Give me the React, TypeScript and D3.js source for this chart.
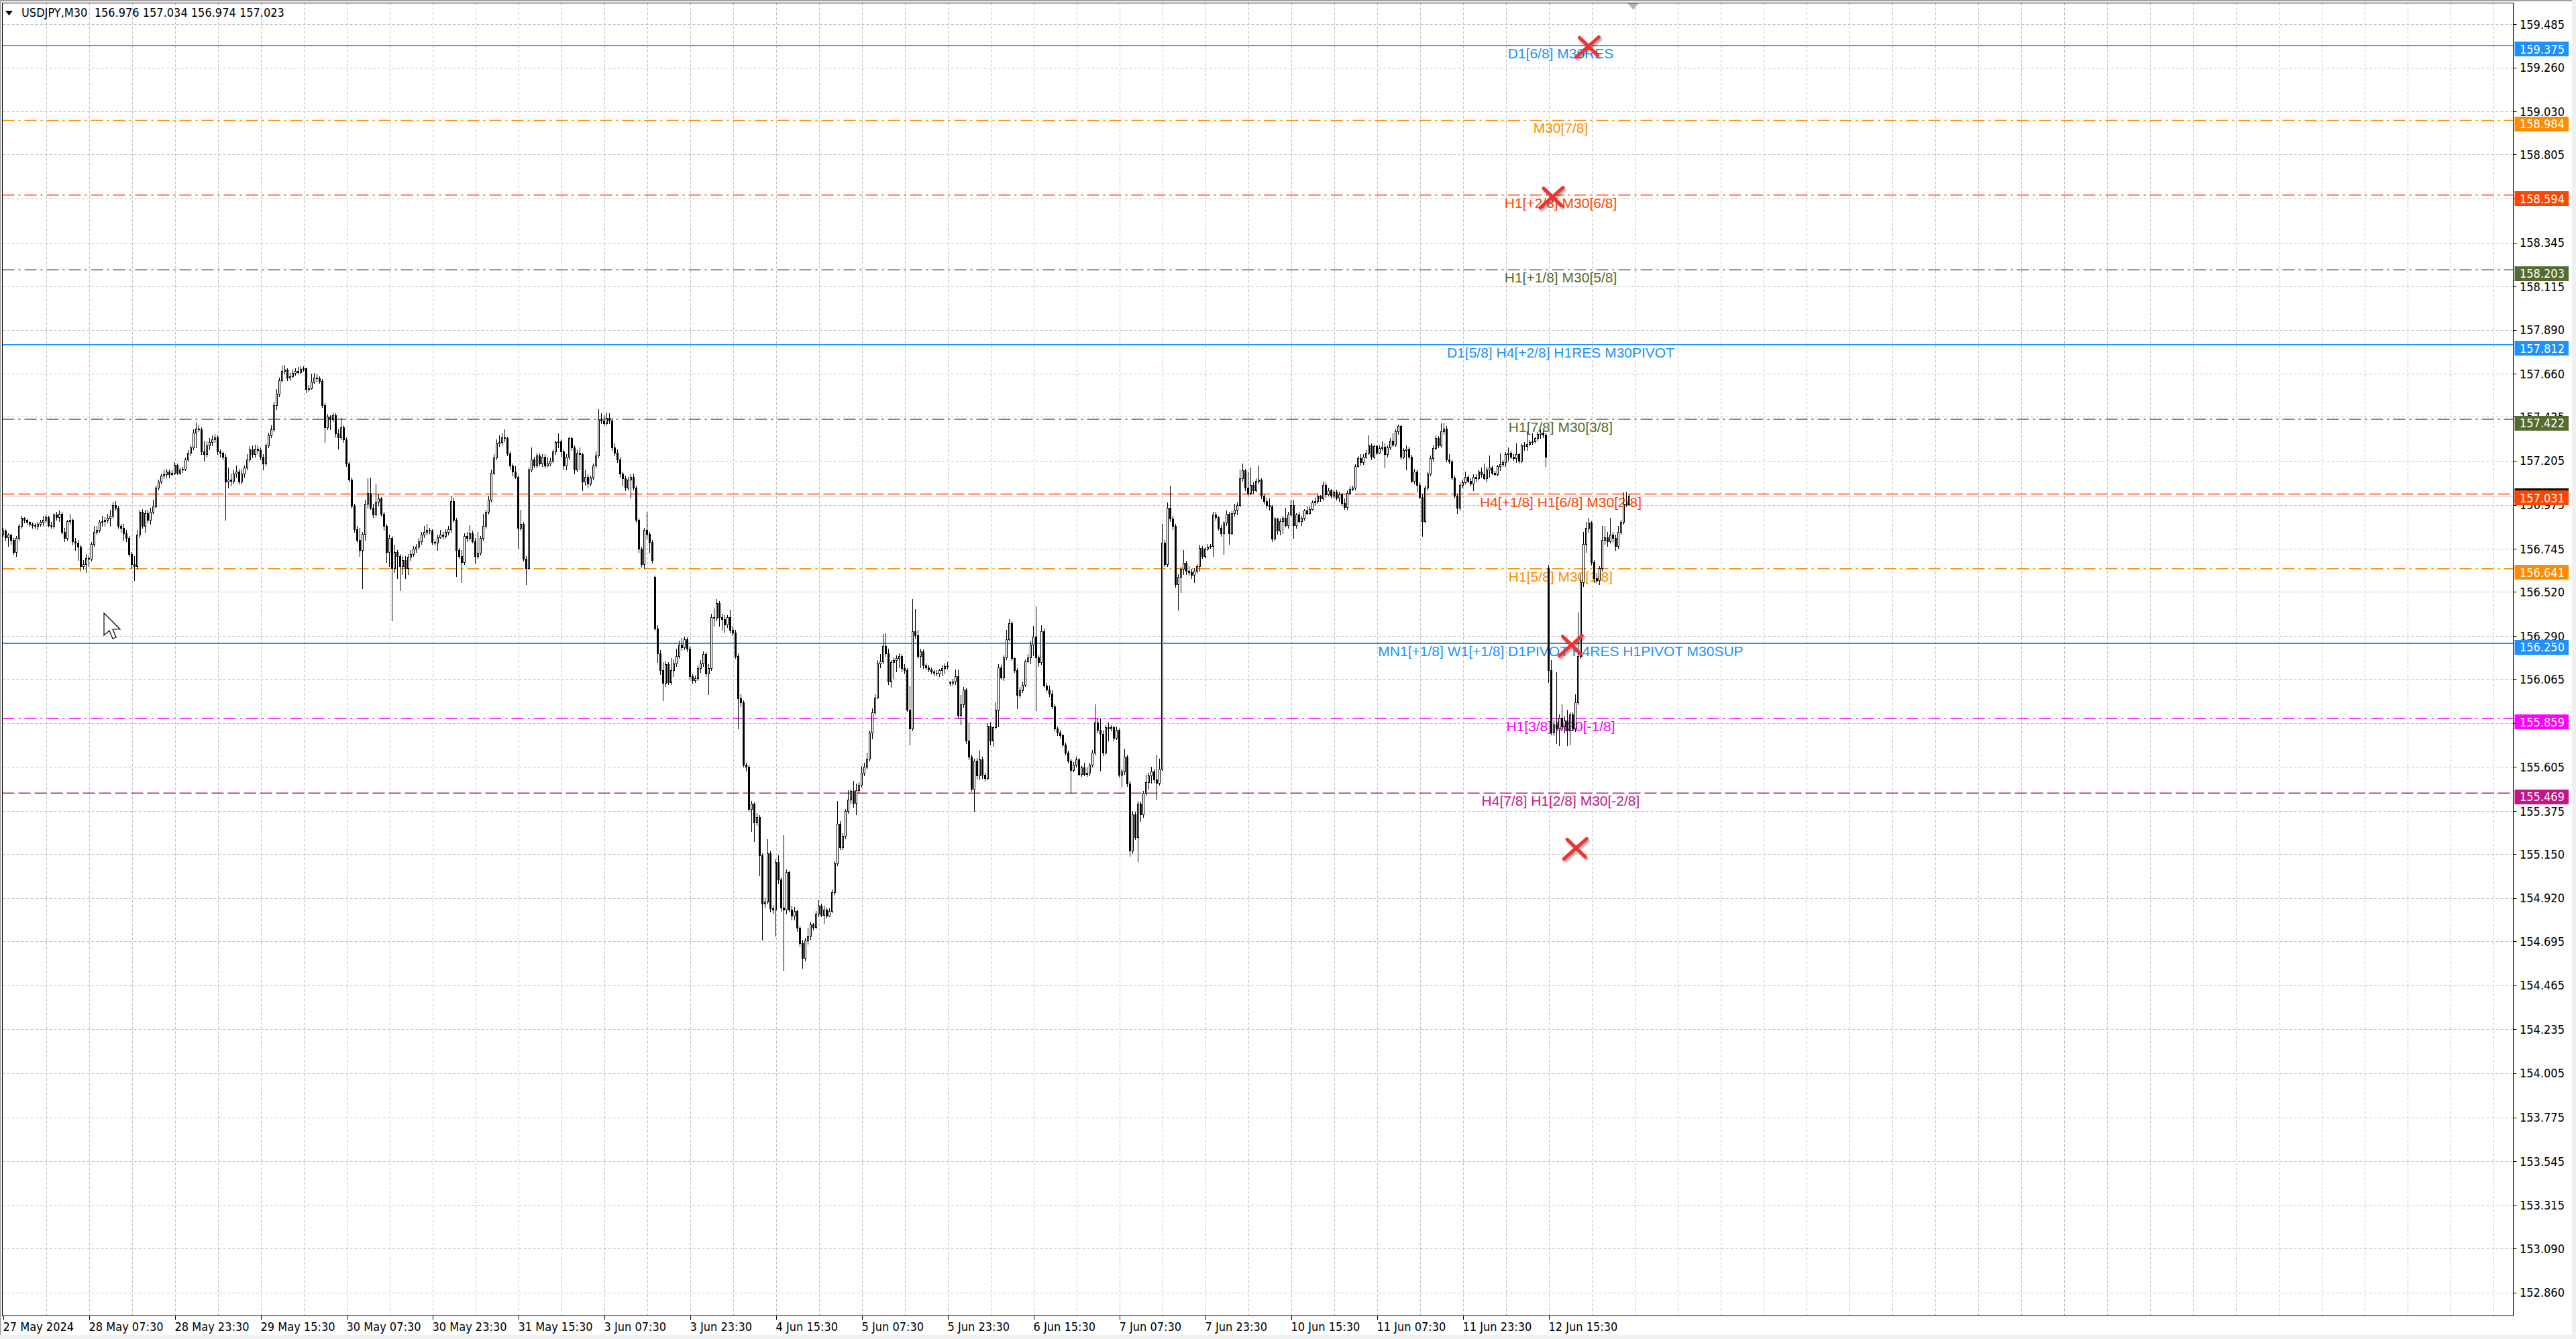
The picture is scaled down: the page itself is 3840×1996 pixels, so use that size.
import React from "react";
import * as d3 from "d3";

type Candle = [number, number, number, number]; // open, high, low, close

// ---- M30 candles, one array per trading session ----
const may27: Candle[] = [
  [156.824,156.855,156.813,156.841],[156.841,156.849,156.792,156.807],[156.807,156.828,156.761,156.820],[156.820,156.824,156.771,156.792],
  [156.792,156.803,156.719,156.729],[156.729,156.813,156.708,156.803],[156.803,156.876,156.792,156.866],[156.866,156.918,156.855,156.908],
  [156.908,156.912,156.883,156.897],[156.897,156.904,156.876,156.887],[156.887,156.891,156.866,156.874],[156.874,156.883,156.855,156.870],
  [156.870,156.879,156.853,156.866],[156.866,156.887,156.849,156.874],[156.874,156.897,156.866,156.887],[156.887,156.918,156.870,156.897],
  [156.897,156.925,156.883,156.912],
];
const may28: Candle[] = [
  [156.912,156.916,156.862,156.870],[156.870,156.887,156.853,156.866],[156.866,156.933,156.855,156.925],[156.925,156.939,156.897,156.912],
  [156.912,156.946,156.891,156.929],[156.929,156.939,156.824,156.834],[156.834,156.855,156.786,156.803],[156.803,156.897,156.792,156.891],
  [156.891,156.929,156.876,156.897],[156.897,156.904,156.771,156.786],[156.786,156.803,156.740,156.778],[156.778,156.792,156.687,156.757],
  [156.757,156.765,156.629,156.656],[156.656,156.687,156.639,156.666],[156.666,156.719,156.624,156.698],[156.698,156.708,156.656,156.694],
  [156.694,156.782,156.681,156.771],[156.771,156.866,156.761,156.834],[156.834,156.866,156.824,156.845],[156.845,156.897,156.834,156.887],
  [156.887,156.918,156.866,156.891],[156.891,156.912,156.866,156.897],[156.897,156.929,156.883,156.908],[156.908,156.950,156.866,156.918],
  [156.918,156.992,156.908,156.975],[156.975,156.996,156.950,156.960],[156.960,156.971,156.855,156.866],[156.866,156.876,156.834,156.855],
  [156.855,156.876,156.792,156.828],[156.828,156.845,156.786,156.803],[156.803,156.813,156.708,156.719],[156.719,156.729,156.645,156.666],
  [156.666,156.708,156.582,156.656],[156.656,156.845,156.639,156.820],[156.820,156.950,156.807,156.939],[156.939,156.954,156.855,156.866],
  [156.866,156.950,156.834,156.933],[156.933,156.950,156.883,156.897],[156.897,156.960,156.876,156.939],[156.939,157.003,156.929,156.967],
  [156.967,157.076,156.960,157.065],[157.065,157.107,157.055,157.097],[157.097,157.139,157.086,157.128],[157.128,157.160,157.114,157.135],
  [157.135,157.164,157.122,157.149],[157.149,157.160,157.118,157.135],[157.135,157.156,157.128,157.143],[157.143,157.198,157.135,157.185],
];
const may29: Candle[] = [
  [157.185,157.191,157.135,157.143],[157.143,157.168,157.135,157.160],[157.160,157.173,157.147,157.164],[157.164,157.223,157.156,157.212],
  [157.212,157.261,157.202,157.248],[157.248,157.286,157.233,157.275],[157.275,157.370,157.265,157.353],[157.353,157.406,157.275,157.374],
  [157.374,157.391,157.359,157.370],[157.370,157.380,157.240,157.254],[157.254,157.307,157.206,157.240],[157.240,157.307,157.227,157.286],
  [157.286,157.324,157.265,157.303],[157.303,157.338,157.286,157.317],[157.317,157.345,157.303,157.328],[157.328,157.338,157.240,157.254],
  [157.254,157.265,157.227,157.248],[157.248,157.254,157.212,157.227],[157.227,157.240,156.897,157.097],[157.097,157.170,157.065,157.107],
  [157.107,157.139,157.076,157.101],[157.101,157.160,157.086,157.139],[157.139,157.181,157.122,157.149],[157.149,157.164,157.086,157.097],
  [157.097,157.160,157.086,157.139],[157.139,157.181,157.122,157.170],[157.170,157.240,157.160,157.212],[157.212,157.282,157.202,157.265],
  [157.265,157.286,157.223,157.240],[157.240,157.290,157.227,157.269],[157.269,157.286,157.244,157.261],[157.261,157.275,157.212,157.227],
  [157.227,157.240,157.160,157.191],[157.191,157.296,157.181,157.286],[157.286,157.353,157.275,157.338],[157.338,157.391,157.328,157.370],
  [157.370,157.513,157.359,157.496],[157.496,157.580,157.475,157.555],[157.555,157.639,157.542,157.626],[157.626,157.702,157.618,157.674],
  [157.674,157.706,157.660,157.681],[157.681,157.689,157.626,157.639],[157.639,157.664,157.626,157.647],[157.647,157.681,157.639,157.664],
  [157.664,157.689,157.654,157.674],[157.674,157.695,157.660,157.668],[157.668,157.698,157.664,157.685],[157.685,157.698,157.674,157.689],
];
const may30: Candle[] = [
  [157.689,157.693,157.563,157.580],[157.580,157.601,157.569,157.584],[157.584,157.660,157.580,157.618],[157.618,157.664,157.612,157.639],
  [157.639,157.660,157.618,157.635],[157.635,157.647,157.612,157.622],[157.622,157.632,157.486,157.496],[157.496,157.507,157.303,157.380],
  [157.380,157.450,157.370,157.437],[157.437,157.443,157.370,157.422],[157.422,157.458,157.412,157.443],[157.443,157.454,157.332,157.349],
  [157.349,157.370,157.269,157.328],[157.328,157.429,157.317,157.380],[157.380,157.391,157.303,157.317],[157.317,157.328,157.177,157.191],
  [157.191,157.202,157.097,157.107],[157.107,157.118,156.960,156.971],[156.971,156.982,156.834,156.849],[156.849,156.866,156.782,156.792],
  [156.792,156.855,156.708,156.740],[156.740,156.834,156.540,156.824],[156.824,157.003,156.792,156.982],[156.982,157.114,156.960,157.038],
  [157.038,157.118,156.954,156.960],[156.960,156.982,156.912,156.925],[156.925,157.086,156.918,156.992],[156.992,157.030,156.971,157.009],
  [157.009,157.017,156.918,156.929],[156.929,156.939,156.845,156.866],[156.866,156.876,156.677,156.729],[156.729,156.820,156.656,156.803],
  [156.803,156.813,156.372,156.645],[156.645,156.765,156.624,156.729],[156.729,156.740,156.593,156.708],[156.708,156.719,156.530,156.656],
  [156.656,156.708,156.614,156.687],[156.687,156.708,156.593,156.645],[156.645,156.719,156.614,156.702],[156.702,156.740,156.687,156.719],
  [156.719,156.761,156.708,156.744],[156.744,156.771,156.729,156.757],[156.757,156.803,156.744,156.786],[156.786,156.834,156.771,156.820],
  [156.820,156.866,156.807,156.834],[156.834,156.876,156.820,156.845],[156.845,156.855,156.828,156.841],[156.841,156.849,156.771,156.782],
];
const may31: Candle[] = [
  [156.782,156.790,156.765,156.778],[156.778,156.820,156.740,156.807],[156.807,156.845,156.803,156.820],[156.820,156.834,156.799,156.813],
  [156.813,156.849,156.803,156.834],[156.834,156.866,156.820,156.849],[156.849,157.024,156.834,156.996],[156.996,157.013,156.887,156.897],
  [156.897,156.908,156.603,156.740],[156.740,156.750,156.698,156.708],[156.708,156.740,156.572,156.677],[156.677,156.828,156.666,156.813],
  [156.813,156.834,156.786,156.803],[156.803,156.870,156.792,156.828],[156.828,156.841,156.778,156.786],[156.786,156.803,156.673,156.708],
  [156.708,156.834,156.698,156.723],[156.723,156.813,156.715,156.803],[156.803,156.929,156.792,156.866],[156.866,156.950,156.855,156.939],
  [156.939,157.024,156.929,157.003],[157.003,157.160,156.992,157.143],[157.143,157.240,157.135,157.223],[157.223,157.317,157.212,157.296],
  [157.296,157.338,157.282,157.303],[157.303,157.349,157.290,157.328],[157.328,157.370,157.307,157.324],[157.324,157.332,157.233,157.244],
  [157.244,157.254,157.164,157.181],[157.181,157.191,157.128,157.149],[157.149,157.177,157.114,157.122],[157.122,157.128,156.750,156.855],
  [156.855,156.950,156.845,156.876],[156.876,156.887,156.681,156.694],[156.694,156.708,156.561,156.645],[156.645,157.170,156.639,157.160],
  [157.160,157.275,157.149,157.212],[157.212,157.227,157.170,157.181],[157.181,157.248,157.170,157.233],[157.233,157.244,157.181,157.191],
  [157.191,157.240,157.177,157.227],[157.227,157.240,157.170,157.181],[157.181,157.223,157.177,157.191],[157.191,157.219,157.181,157.206],
  [157.206,157.265,157.198,157.254],[157.254,157.311,157.240,157.303],[157.303,157.349,157.275,157.307],[157.307,157.317,157.227,157.254],
];
const jun03: Candle[] = [
  [157.254,157.265,157.164,157.181],[157.181,157.240,157.160,157.227],[157.227,157.332,157.212,157.324],[157.324,157.332,157.261,157.275],
  [157.275,157.286,157.139,157.160],[157.160,157.261,157.149,157.248],[157.248,157.275,157.160,157.240],[157.240,157.248,157.051,157.097],
  [157.097,157.160,157.080,157.122],[157.122,157.135,157.065,157.086],[157.086,157.128,157.076,157.118],[157.118,157.191,157.107,157.181],
  [157.181,157.254,157.170,157.233],[157.233,157.475,157.223,157.422],[157.422,157.454,157.401,157.416],[157.416,157.443,157.391,157.401],
  [157.401,157.458,157.395,157.429],[157.429,157.454,157.401,157.416],[157.416,157.429,157.261,157.275],[157.275,157.296,157.233,157.248],
  [157.248,157.265,157.198,157.212],[157.212,157.223,157.122,157.139],[157.139,157.149,157.076,157.114],[157.114,157.126,157.051,157.065],
  [157.065,157.122,157.055,157.107],[157.107,157.135,157.013,157.122],[157.122,157.139,157.055,157.065],[157.065,157.076,156.887,156.897],
  [156.897,156.908,156.729,156.744],[156.744,156.757,156.652,156.666],[156.666,156.855,156.645,156.845],[156.845,156.939,156.803,156.824],
  [156.824,156.834,156.729,156.782],[156.782,156.792,156.673,156.687],[156.600,156.605,156.320,156.330],[156.330,156.345,156.152,156.198],
  [156.198,156.215,156.089,156.110],[156.110,156.152,155.952,156.043],[156.043,156.156,156.026,156.142],[156.142,156.152,156.037,156.047],
  [156.047,156.173,156.037,156.110],[156.110,156.169,156.078,156.148],[156.148,156.225,156.131,156.184],[156.184,156.267,156.173,156.246],
  [156.246,156.278,156.215,156.232],[156.232,156.288,156.219,156.274],[156.274,156.282,156.211,156.225],[156.225,156.236,156.064,156.078],
];
const jun04: Candle[] = [
  [156.078,156.089,156.043,156.058],[156.058,156.085,156.047,156.068],[156.068,156.135,156.058,156.121],[156.121,156.163,156.100,156.148],
  [156.148,156.211,156.131,156.194],[156.194,156.205,156.078,156.093],[156.093,156.142,155.984,156.121],[156.121,156.404,156.110,156.387],
  [156.387,156.435,156.341,156.383],[156.383,156.484,156.372,156.463],[156.463,156.471,156.341,156.387],[156.387,156.404,156.320,156.379],
  [156.379,156.400,156.309,156.351],[156.351,156.400,156.337,156.387],[156.387,156.425,156.309,156.320],[156.320,156.341,156.295,156.309],
  [156.309,156.320,156.173,156.184],[156.184,156.198,155.805,155.963],[155.963,155.984,155.921,155.942],[155.942,155.952,155.606,155.616],
  [155.616,155.627,155.585,155.606],[155.606,155.616,155.375,155.385],[155.385,155.428,155.270,155.413],[155.413,155.421,155.217,155.316],
  [155.316,155.364,155.301,155.343],[155.343,155.354,155.039,155.144],[155.144,155.154,154.703,154.892],[154.892,154.924,154.871,154.903],
  [154.903,155.228,154.892,155.154],[155.154,155.165,154.850,154.867],[154.867,154.882,154.840,154.861],[154.861,155.123,154.724,155.109],
  [155.109,155.144,154.997,155.018],[155.018,155.029,154.854,154.871],[154.871,155.249,154.545,154.861],[154.861,155.070,154.840,155.056],
  [155.056,155.064,154.850,154.861],[154.861,154.882,154.808,154.829],[154.829,154.875,154.808,154.854],[154.854,154.861,154.749,154.766],
  [154.766,154.776,154.671,154.686],[154.686,154.703,154.556,154.608],[154.608,154.714,154.594,154.699],[154.699,154.766,154.682,154.724],
  [154.724,154.797,154.707,154.783],[154.783,154.791,154.755,154.770],[154.770,154.854,154.762,154.840],[154.840,154.909,154.825,154.882],
];
const jun05: Candle[] = [
  [154.882,154.892,154.825,154.833],[154.833,154.882,154.791,154.861],[154.861,154.871,154.818,154.829],[154.829,154.867,154.825,154.854],
  [154.854,154.965,154.846,154.951],[154.951,155.113,154.938,155.102],[155.102,155.428,155.092,155.308],[155.308,155.322,155.175,155.186],
  [155.186,155.259,155.175,155.245],[155.245,155.385,155.232,155.375],[155.375,155.484,155.364,155.434],[155.434,155.490,155.413,155.480],
  [155.480,155.532,155.396,155.417],[155.417,155.518,155.358,155.484],[155.484,155.526,155.469,155.511],[155.511,155.610,155.501,155.574],
  [155.574,155.627,155.560,155.606],[155.606,155.679,155.595,155.648],[155.648,155.795,155.637,155.784],[155.784,155.910,155.753,155.889],
  [155.889,155.984,155.879,155.967],[155.967,156.163,155.963,156.148],[156.148,156.194,156.127,156.156],[156.156,156.299,156.148,156.236],
  [156.236,156.303,156.184,156.198],[156.198,156.225,156.037,156.051],[156.051,156.163,156.022,156.152],[156.152,156.177,156.064,156.163],
  [156.163,156.190,156.106,156.173],[156.173,156.198,156.127,156.184],[156.184,156.194,156.106,156.121],[156.121,156.142,156.093,156.110],
  [156.110,156.121,155.896,155.904],[155.904,156.026,155.721,155.805],[155.805,156.484,155.795,156.316],[156.316,156.429,156.278,156.295],
  [156.295,156.320,156.173,156.184],[156.184,156.225,156.127,156.211],[156.211,156.219,156.121,156.135],[156.135,156.148,156.114,156.127],
  [156.127,156.139,156.106,156.114],[156.114,156.127,156.093,156.104],[156.104,156.114,156.085,156.097],[156.097,156.110,156.085,156.093],
  [156.093,156.118,156.078,156.110],[156.110,156.135,156.085,156.121],[156.121,156.148,156.093,156.131],[156.131,156.152,156.118,156.135],
];
const jun06: Candle[] = [
  [156.047,156.055,156.030,156.043],[156.043,156.064,156.034,156.051],[156.051,156.114,156.037,156.078],[156.078,156.114,155.862,155.875],
  [155.875,155.980,155.826,155.931],[155.931,156.022,155.917,156.009],[156.009,156.016,155.728,155.742],[155.742,155.837,155.644,155.658],
  [155.658,155.669,155.480,155.490],[155.490,155.648,155.375,155.637],[155.637,155.652,155.543,155.560],[155.560,155.690,155.539,155.644],
  [155.644,155.658,155.547,155.564],[155.564,155.574,155.532,155.547],[155.547,155.833,155.539,155.820],[155.820,155.837,155.721,155.742],
  [155.742,155.820,155.715,155.812],[155.812,155.942,155.805,155.904],[155.904,156.142,155.816,156.127],[156.127,156.139,156.064,156.072],
  [156.072,156.190,156.058,156.177],[156.177,156.320,156.169,156.274],[156.274,156.379,156.267,156.358],[156.358,156.366,156.163,156.173],
  [156.173,156.177,156.100,156.110],[156.110,156.121,155.910,155.980],[155.980,156.022,155.967,156.005],[156.005,156.051,155.995,156.034],
  [156.034,156.169,156.026,156.156],[156.156,156.194,156.152,156.177],[156.177,156.261,156.148,156.246],[156.246,156.341,156.190,156.288],
  [156.288,156.446,155.900,156.177],[156.177,156.190,156.131,156.152],[156.152,156.345,156.142,156.316],[156.316,156.330,156.022,156.030],
  [156.030,156.043,156.001,156.009],[156.009,156.030,155.973,155.988],[155.988,156.005,155.910,155.921],[155.921,155.931,155.795,155.805],
  [155.805,155.816,155.770,155.784],[155.784,155.799,155.757,155.770],[155.770,155.778,155.711,155.721],[155.721,155.732,155.669,155.679],
  [155.679,155.690,155.627,155.637],[155.637,155.648,155.469,155.589],[155.589,155.631,155.581,155.616],[155.616,155.658,155.606,155.644],
];
const jun07: Candle[] = [
  [155.644,155.652,155.560,155.568],[155.568,155.614,155.556,155.602],[155.602,155.627,155.560,155.568],[155.568,155.602,155.556,155.574],
  [155.574,155.627,155.560,155.616],[155.616,155.694,155.606,155.679],[155.679,155.931,155.669,155.837],[155.837,155.854,155.784,155.799],
  [155.799,155.858,155.585,155.778],[155.778,155.795,155.665,155.679],[155.679,155.824,155.673,155.812],[155.812,155.837,155.742,155.805],
  [155.805,155.824,155.795,155.812],[155.812,155.820,155.742,155.757],[155.757,155.816,155.749,155.799],[155.799,155.805,155.553,155.564],
  [155.564,155.595,155.501,155.581],[155.581,155.700,155.568,155.658],[155.658,155.669,155.505,155.518],[155.518,155.532,155.140,155.169],
  [155.169,155.375,155.154,155.358],[155.358,155.371,155.228,155.238],[155.238,155.428,155.113,155.413],[155.413,155.425,155.322,155.358],
  [155.358,155.480,155.343,155.469],[155.469,155.564,155.459,155.526],[155.526,155.574,155.490,155.560],[155.560,155.606,155.522,155.581],
  [155.581,155.595,155.526,155.539],[155.539,155.669,155.434,155.522],[155.522,155.648,155.511,155.595],[155.595,156.876,155.589,156.778],
  [156.778,156.792,156.656,156.666],[156.666,156.988,156.656,156.960],[156.960,157.076,156.891,156.904],[156.904,156.918,156.849,156.866],
  [156.866,156.876,156.547,156.561],[156.561,156.614,156.425,156.597],[156.597,156.652,156.519,156.639],[156.639,156.740,156.614,156.673],
  [156.673,156.681,156.614,156.631],[156.631,156.656,156.610,156.624],[156.624,156.639,156.593,156.610],[156.610,156.645,156.572,156.631],
  [156.631,156.666,156.618,156.656],[156.656,156.765,156.631,156.750],[156.750,156.761,156.698,156.708],[156.708,156.757,156.700,156.744],
];
const jun10: Candle[] = [
  [156.744,156.771,156.740,156.757],[156.757,156.769,156.748,156.761],[156.761,156.939,156.708,156.925],[156.925,156.939,156.897,156.912],
  [156.912,156.918,156.845,156.855],[156.855,156.870,156.813,156.828],[156.828,156.891,156.719,156.883],[156.883,156.946,156.870,156.929],
  [156.929,156.939,156.771,156.828],[156.828,156.946,156.820,156.933],[156.933,156.982,156.918,156.950],[156.950,156.988,156.925,156.975],
  [156.975,157.160,156.967,157.114],[157.114,157.191,157.101,157.156],[157.156,157.164,157.051,157.065],[157.065,157.149,157.024,157.038],
  [157.038,157.170,157.030,157.080],[157.080,157.093,157.038,157.051],[157.051,157.114,157.042,157.101],[157.101,157.181,157.089,157.105],
  [157.105,157.114,157.009,157.024],[157.024,157.034,156.982,156.996],[156.996,157.013,156.960,156.975],[156.975,157.009,156.950,156.967],
  [156.967,156.975,156.786,156.799],[156.799,156.912,156.792,156.904],[156.904,156.908,156.824,156.841],[156.841,156.904,156.820,156.891],
  [156.891,156.918,156.828,156.908],[156.908,156.960,156.862,156.870],[156.870,156.939,156.855,156.925],[156.925,157.003,156.918,156.975],
  [156.975,157.003,156.803,156.870],[156.870,156.933,156.855,156.925],[156.925,156.939,156.883,156.891],[156.891,156.918,156.870,156.908],
  [156.908,156.954,156.897,156.946],[156.946,156.967,156.925,156.933],[156.933,156.967,156.929,156.954],[156.954,156.999,156.950,156.988],
  [156.988,157.013,156.975,156.996],[156.996,157.034,156.984,157.021],[157.021,157.026,156.996,157.009],[157.009,157.097,157.003,157.080],
  [157.080,157.093,157.017,157.030],[157.030,157.065,157.021,157.051],[157.051,157.059,157.013,157.021],[157.021,157.055,157.013,157.042],
];
const jun11: Candle[] = [
  [157.042,157.055,157.003,157.013],[157.013,157.042,156.996,157.030],[157.030,157.038,156.975,156.984],[156.984,157.009,156.954,156.963],
  [156.963,157.051,156.954,157.038],[157.038,157.072,157.030,157.059],[157.059,157.076,157.051,157.063],[157.063,157.189,157.055,157.177],
  [157.177,157.231,157.173,157.219],[157.219,157.240,157.185,157.198],[157.198,157.240,157.189,157.227],[157.227,157.261,157.219,157.248],
  [157.248,157.338,157.240,157.286],[157.286,157.296,157.212,157.227],[157.227,157.290,157.219,157.282],[157.282,157.290,157.240,157.248],
  [157.248,157.286,157.244,157.273],[157.273,157.307,157.261,157.278],[157.278,157.296,157.170,157.240],[157.240,157.286,157.227,157.275],
  [157.275,157.324,157.265,157.311],[157.311,157.349,157.282,157.290],[157.290,157.370,157.282,157.359],[157.359,157.395,157.345,157.387],
  [157.387,157.395,157.212,157.227],[157.227,157.273,157.219,157.261],[157.261,157.286,157.160,157.269],[157.269,157.278,157.215,157.227],
  [157.227,157.236,157.093,157.101],[157.101,157.164,157.086,157.149],[157.149,157.160,157.045,157.080],[157.080,157.093,157.009,157.017],
  [157.017,157.030,156.813,156.891],[156.891,157.076,156.883,157.065],[157.065,157.149,157.055,157.139],[157.139,157.233,157.128,157.219],
  [157.219,157.286,157.206,157.273],[157.273,157.338,157.265,157.324],[157.324,157.336,157.275,157.286],[157.286,157.401,157.278,157.359],
  [157.359,157.401,157.345,157.374],[157.374,157.387,157.202,157.212],[157.212,157.240,157.191,157.202],[157.202,157.212,157.107,157.118],
  [157.118,157.128,157.013,157.024],[157.024,157.034,156.933,156.960],[156.960,157.093,156.950,157.080],[157.080,157.105,157.065,157.093],
];
const jun12: Candle[] = [
  [157.093,157.149,157.084,157.122],[157.122,157.131,157.091,157.101],[157.101,157.114,157.076,157.086],[157.086,157.135,157.051,157.122],
  [157.122,157.135,157.097,157.114],[157.114,157.160,157.105,157.149],[157.149,157.170,157.122,157.135],[157.135,157.191,157.105,157.114],
  [157.114,157.173,157.097,157.160],[157.160,157.233,157.122,157.170],[157.170,157.181,157.135,157.143],[157.143,157.152,157.126,157.135],
  [157.135,157.185,157.126,157.177],[157.177,157.244,157.156,157.189],[157.189,157.210,157.177,157.198],[157.198,157.252,157.177,157.240],
  [157.240,157.275,157.206,157.248],[157.248,157.257,157.219,157.227],[157.227,157.240,157.210,157.219],[157.219,157.296,157.198,157.240],
  [157.240,157.248,157.196,157.206],[157.206,157.296,157.198,157.286],[157.286,157.303,157.261,157.282],[157.282,157.359,157.261,157.294],
  [157.294,157.315,157.286,157.303],[157.303,157.349,157.294,157.307],[157.307,157.332,157.299,157.324],[157.324,157.357,157.311,157.345],
  [157.345,157.370,157.324,157.353],[157.353,157.362,157.328,157.341],[157.341,157.349,157.177,157.227],[156.645,156.660,156.047,156.110],
  [156.110,156.163,155.774,155.784],[155.784,155.847,155.770,155.826],[155.826,156.100,155.728,155.805],[155.805,155.879,155.719,155.862],
  [155.862,155.931,155.799,155.816],[155.816,155.868,155.784,155.847],[155.847,155.906,155.719,155.795],[155.795,155.889,155.721,155.879],
  [155.879,155.889,155.795,155.805],[155.805,155.984,155.791,155.942],[155.942,156.414,155.931,156.184],[156.184,156.614,156.173,156.572],
  [156.572,156.834,156.551,156.771],[156.771,156.887,156.729,156.855],[156.855,156.908,156.834,156.883],[156.883,156.891,156.660,156.677],
];
const jun13: Candle[] = [
  [156.677,156.687,156.572,156.593],[156.593,156.618,156.568,156.582],[156.582,156.656,156.561,156.645],[156.645,156.866,156.631,156.792],
  [156.792,156.866,156.771,156.807],[156.807,156.834,156.761,156.786],[156.786,156.908,156.778,156.820],[156.820,156.834,156.782,156.803],
  [156.803,156.820,156.740,156.761],[156.761,156.866,156.750,156.834],[156.834,156.897,156.824,156.885],[156.885,157.040,156.874,156.982],
  [156.982,157.045,156.971,156.976],[156.976,157.034,156.974,157.023],
];

const sessions: Candle[][] = [may27, may28, may29, may30, may31, jun03, jun04, jun05, jun06, jun07, jun10, jun11, jun12, jun13];

// ---- axes ----
const priceTicks = [159.485, 159.26, 159.03, 158.805, 158.575, 158.345, 158.115, 157.89, 157.66, 157.435, 157.205, 156.975,
  156.745, 156.52, 156.29, 156.065, 155.835, 155.605, 155.375, 155.15, 154.92, 154.695, 154.465, 154.235, 154.005,
  153.775, 153.545, 153.315, 153.09, 152.86];
const timeTickBars = [0, 32, 64, 96, 128, 160, 192, 224, 256, 288, 320, 352, 384, 416, 448, 480, 512, 544, 576];
const timeTickLabels = ["27 May 2024", "28 May 07:30", "28 May 23:30", "29 May 15:30", "30 May 07:30", "30 May 23:30",
  "31 May 15:30", "3 Jun 07:30", "3 Jun 23:30", "4 Jun 15:30", "5 Jun 07:30", "5 Jun 23:30", "6 Jun 15:30",
  "7 Jun 07:30", "7 Jun 23:30", "10 Jun 15:30", "11 Jun 07:30", "11 Jun 23:30", "12 Jun 15:30"];

// ---- Murrey-math style levels ----
const levelPrices = [159.375, 158.984, 158.594, 158.203, 157.812, 157.422, 157.031, 156.641, 156.25, 155.859, 155.469];
const levelNames = ["D1[6/8] M30RES", "M30[7/8]", "H1[+2/8] M30[6/8]", "H1[+1/8] M30[5/8]", "D1[5/8] H4[+2/8] H1RES M30PIVOT",
  "H1[7/8] M30[3/8]", "H4[+1/8] H1[6/8] M30[2/8]", "H1[5/8] M30[1/8]", "MN1[+1/8] W1[+1/8] D1PIVOT H4RES H1PIVOT M30SUP",
  "H1[3/8] M30[-1/8]", "H4[7/8] H1[2/8] M30[-2/8]"];
const bidPrice = 157.023;
const headerSymbol = "USDJPY,M30";
const headerOHLC = [156.976, 157.034, 156.974, 157.023];
const markerBars = [590.5, 577.1, 584.2, 585.9];
const markerPrices = [159.367, 158.58, 156.239, 155.178];
const labelBar = 580.5;
const shiftBar = 607.5;

// ---- styles ----
const levelColors = ["#1E90FF", "#FF8C00", "#FF4500", "#556B2F", "#1E90FF", "#556B2F", "#FF4500", "#FF8C00", "#1E90FF", "#FF00FF", "#C71585"];
const DD = "18,6,3,6";
const levelDash = ["", DD, DD, DD, "", DD, "18,6", DD, "", DD, "18,6"];
const levelWidth = [1.5, 1.5, 1.5, 1.5, 1.5, 1.5, 1.5, 1.5, 2, 1.5, 1.5];
const AXIS_FONT = "Tahoma, 'DejaVu Sans Condensed', 'DejaVu Sans', sans-serif";
const LABEL_FONT = "Arial, 'Liberation Sans', sans-serif";

export default function App() {
  const W = 3840, H = 1996;
  const L = 3.5, T = 4.5, R = 3746.5, B = 1961.5;
  const candles = sessions.flat();
  const n = candles.length;
  const x = d3.scaleLinear().domain([0, n - 1]).range([4.5, 4.5 + (n - 1) * 4]);
  const y = d3.scaleLinear().domain([152.736, 159.597]).range([1962, 4.5]);
  const snap = (v: number) => Math.round(v) + 0.5;

  const gridBars = d3.range(16, 16 * 59, 16).filter((b) => x(b) < R - 2);

  return (
    <div style={{ position: "absolute", left: 0, top: 0 }}>
      <svg width={W} height={H} style={{ display: "block", background: "#fff" }}>
        <defs>
          <clipPath id="plot">
            <rect x={L + 0.5} y={T + 0.5} width={R - L - 1} height={B - T - 1} />
          </clipPath>
          <filter id="shadow" x="-50%" y="-50%" width="200%" height="200%">
            <feDropShadow dx="2" dy="3" stdDeviation="1.5" floodColor="#000" floodOpacity="0.35" />
          </filter>
        </defs>
        <rect x={0} y={0} width={W} height={H} fill="#fff" />
        {/* window frame */}
        <rect x={0} y={0} width={W} height={2} fill="#a0a0a0" />
        <rect x={0} y={0} width={1.5} height={H} fill="#a0a0a0" />
        <rect x={3834} y={0} width={6} height={H} fill="#f0f0f0" />
        <rect x={0} y={1990} width={W} height={6} fill="#f0f0f0" />

        <g clipPath="url(#plot)">
          {/* grid */}
          {priceTicks.map((p, i) => (
            <line key={"hg" + i} x1={L} x2={R} y1={snap(y(p))} y2={snap(y(p))} stroke="#c0c0c0" strokeWidth={1} strokeDasharray="4,3" />
          ))}
          {gridBars.map((b) => (
            <line key={"vg" + b} x1={snap(x(b))} x2={snap(x(b))} y1={T} y2={B} stroke="#c0c0c0" strokeWidth={1} strokeDasharray="4,3" />
          ))}
          {/* level lines */}
          {levelPrices.map((p, i) => {
            const yy = levelWidth[i] === 2 ? Math.round(y(p)) : y(p);
            return (
              <line key={"lv" + i} x1={L} x2={R} y1={yy} y2={yy} stroke={levelColors[i]} strokeWidth={levelWidth[i]}
                strokeDasharray={levelDash[i] || undefined} />
            );
          })}
          {/* bid line */}
          <line x1={L} x2={R} y1={snap(y(bidPrice))} y2={snap(y(bidPrice))} stroke="#c0c0c0" strokeWidth={1} />
          {/* level labels */}
          {levelPrices.map((p, i) => (
            <text key={"lt" + i} x={x(labelBar)} y={y(p) + 19} fill={levelColors[i]} fontFamily={LABEL_FONT} fontSize={21}
              textAnchor="middle">{levelNames[i]}</text>
          ))}
          {/* candles */}
          {candles.map((c, i) => {
            const [o, h, l, cl] = c;
            const cx = x(i);
            const yt = Math.round(y(Math.max(o, cl)));
            const yb = Math.round(y(Math.min(o, cl)));
            const bull = cl >= o;
            const hgt = yb - yt;
            return (
              <g key={"c" + i}>
                <line x1={cx} x2={cx} y1={Math.round(y(h))} y2={Math.round(y(l)) + 1} stroke="#000" strokeWidth={1} />
                {hgt < 1 ? (
                  <line x1={cx - 1.5} x2={cx + 1.5} y1={yt + 0.5} y2={yt + 0.5} stroke="#000" strokeWidth={1} />
                ) : bull ? (
                  <rect x={cx - 1} y={yt + 0.5} width={2} height={hgt} fill="#fff" stroke="#000" strokeWidth={1} />
                ) : (
                  <rect x={cx - 1.5} y={yt} width={3} height={hgt + 1} fill="#000" />
                )}
              </g>
            );
          })}
          {/* X markers */}
          {markerBars.map((b, i) => {
            const mx = x(b), my = y(markerPrices[i]);
            return (
              <g key={"mk" + i} transform={`translate(${mx},${my})`} filter="url(#shadow)">
                <line x1={-12} y1={-14} x2={15} y2={12} stroke="#ee3030" strokeWidth={5} strokeLinecap="round" />
                <line x1={-17} y1={15} x2={17} y2={-15} stroke="#ee3030" strokeWidth={5} strokeLinecap="round" />
              </g>
            );
          })}
        </g>

        {/* frame */}
        <rect x={L} y={T} width={R - L} height={B - T} fill="none" stroke="#000" strokeWidth={1} />
        {/* chart shift marker */}
        <polygon points={`${x(shiftBar) - 8},${T + 0.5} ${x(shiftBar) + 8},${T + 0.5} ${x(shiftBar)},${T + 10}`} fill="#b4b4b4" />

        {/* header */}
        <polygon points="8,16 19,16 13.5,23" fill="#000" />
        <text x={32} y={25} fontFamily={AXIS_FONT} fontSize={18} fill="#000" style={{ whiteSpace: "pre" }}>
          {`${headerSymbol}  ${headerOHLC.map((v) => v.toFixed(3)).join(" ")}`}
        </text>

        {/* time axis */}
        {timeTickBars.map((b, i) => (
          <g key={"tt" + i}>
            <line x1={snap(x(b))} x2={snap(x(b))} y1={B} y2={B + 6} stroke="#000" strokeWidth={1} />
            <text x={Math.max(x(b), 4)} y={1984} fontFamily={AXIS_FONT} fontSize={18} fill="#000">{timeTickLabels[i]}</text>
          </g>
        ))}

        {/* price axis */}
        {priceTicks.map((p, i) => (
          <g key={"pt" + i}>
            <line x1={R} x2={R + 5} y1={snap(y(p))} y2={snap(y(p))} stroke="#000" strokeWidth={1} />
            <text x={3756} y={y(p) + 6.5} fontFamily={AXIS_FONT} fontSize={18} fill="#000">{p.toFixed(3)}</text>
          </g>
        ))}
        {/* bid label */}
        <rect x={3748.5} y={Math.round(y(bidPrice) - 11)} width={80.5} height={22} fill="#000" />
        <text x={3756} y={y(bidPrice) + 6.5} fontFamily={AXIS_FONT} fontSize={18} fill="#fff">{bidPrice.toFixed(3)}</text>
        {/* level price labels */}
        {levelPrices.map((p, i) => (
          <g key={"pl" + i}>
            <rect x={3748.5} y={Math.round(y(p) - 5.5)} width={80.5} height={22} fill={levelColors[i]} />
            <text x={3756} y={y(p) + 12} fontFamily={AXIS_FONT} fontSize={18} fill="#fff">{p.toFixed(3)}</text>
          </g>
        ))}

        {/* mouse cursor */}
        <polygon points="155,914 155,947 163,940 168,952 173,950 168,938 179,938" fill="#fff" stroke="#000" strokeWidth={1.2} strokeLinejoin="miter" />
      </svg>
    </div>
  );
}
